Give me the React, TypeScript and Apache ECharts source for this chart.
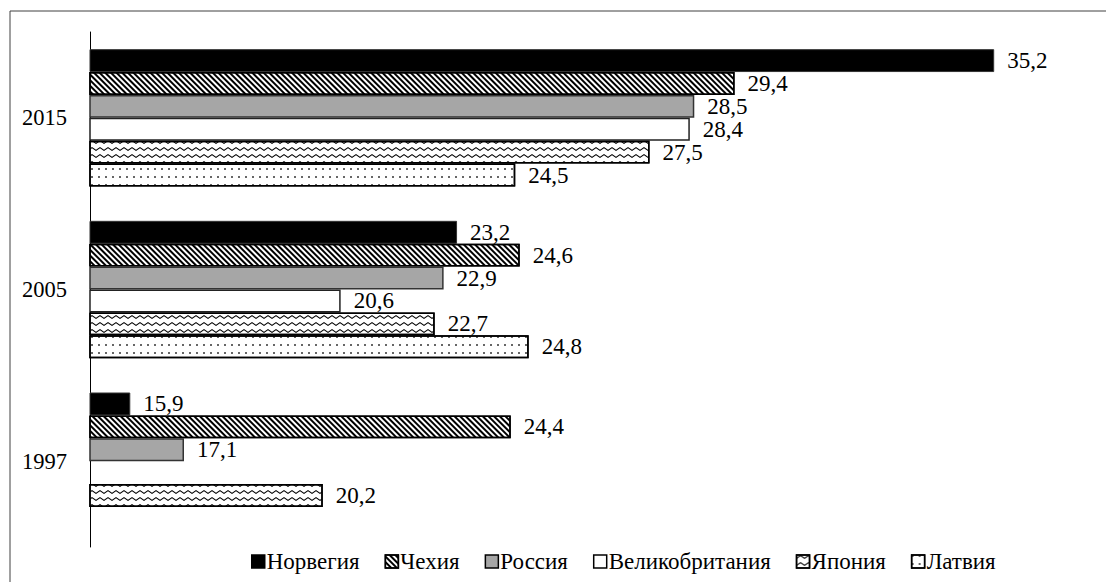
import React, { useEffect, useRef } from "react";
import * as echarts from "echarts";

const categories = ["2015", "2005", "1997"];
const seriesNames = ["Норвегия", "Чехия", "Россия", "Великобритания", "Япония", "Латвия"];
const norway = [35.2, 23.2, 15.9];
const czech = [29.4, 24.6, 24.4];
const russia = [28.5, 22.9, 17.1];
const uk: (number | string)[] = [28.4, 20.6, "-"];
const japan = [27.5, 22.7, 20.2];
const latvia: (number | string)[] = [24.5, 24.8, "-"];

const FONT = "Liberation Serif";

export default function App() {
  const ref = useRef<HTMLDivElement>(null);
  useEffect(() => {
    if (!ref.current) return;
    const chart = echarts.init(ref.current, undefined, { renderer: "svg" });
    const styles: any[] = [
      { color: "#000", borderColor: "#333", borderWidth: 1 },
      {
        color: "#fff",
        borderColor: "#000",
        borderWidth: 1.5,
        decal: {
          symbol: "rect",
          color: "#000",
          backgroundColor: "#fff",
          dashArrayX: [1, 0],
          dashArrayY: [2, 2],
          rotation: Math.PI / 4,
        },
      },
      { color: "#a6a6a6", borderColor: "#333", borderWidth: 1.5 },
      { color: "#fff", borderColor: "#222", borderWidth: 1.5 },
      {
        color: "#fff",
        borderColor: "#000",
        borderWidth: 1.5,
        decal: {
          symbol: "path://M0 3 L4 0 L8 3 L8 4.5 L4 1.5 L0 4.5 Z",
          symbolKeepAspect: false,
          color: "#000",
          backgroundColor: "#fff",
          dashArrayX: [8, 0],
          dashArrayY: [4, 3],
          rotation: 0,
        },
      },
      {
        color: "#fff",
        borderColor: "#000",
        borderWidth: 1.5,
        decal: {
          symbol: "rect",
          symbolSize: 0.8,
          color: "#000",
          backgroundColor: "#fff",
          dashArrayX: [2, 5],
          dashArrayY: [2, 6],
          rotation: 0,
        },
      },
    ];
    const datas = [norway, czech, russia, uk, japan, latvia];
    chart.setOption({
      animation: false,
      backgroundColor: "#fff",
      grid: { left: 90, right: 76, top: 32, bottom: 35, containLabel: false },
      xAxis: {
        type: "value",
        min: 15,
        max: 36,
        show: false,
        splitLine: { show: false },
      },
      yAxis: {
        type: "category",
        inverse: true,
        data: categories,
        axisLine: { show: true, lineStyle: { color: "#000", width: 1 } },
        axisTick: { show: false },
        axisLabel: { color: "#000", fontSize: 22.5, fontFamily: FONT, margin: 23 },
      },
      legend: {
        data: seriesNames,
        left: 246,
        top: 545,
        itemWidth: 13,
        itemHeight: 13,
        itemGap: 25,
        icon: "rect",
        itemStyle: { borderColor: "#000", borderWidth: 1.5 },
        textStyle: { color: "#000", fontSize: 23, fontFamily: FONT, padding: [0, 0, 0, -3] },
      },
      graphic: [
        { type: "line", shape: { x1: 10, y1: 11, x2: 1106, y2: 11 }, style: { stroke: "#404040", lineWidth: 1 } },
        { type: "line", shape: { x1: 10, y1: 11, x2: 10, y2: 582 }, style: { stroke: "#404040", lineWidth: 1 } },
      ],
      series: seriesNames.map((name, i) => ({
        name,
        type: "bar",
        data: datas[i],
        barGap: 0,
        barCategoryGap: "20%",
        itemStyle: styles[i],
        label: {
          show: true,
          position: "right",
          distance: 13,
          color: "#000",
          fontSize: 23,
          fontFamily: FONT,
          formatter: (p: any) => Number(p.value).toFixed(1).replace(".", ","),
        },
      })),
    });
    return () => chart.dispose();
  }, []);
  return (
    <div
      ref={ref}
      style={{ position: "fixed", left: 0, top: 0, width: 1106, height: 582, background: "#fff" }}
    />
  );
}
